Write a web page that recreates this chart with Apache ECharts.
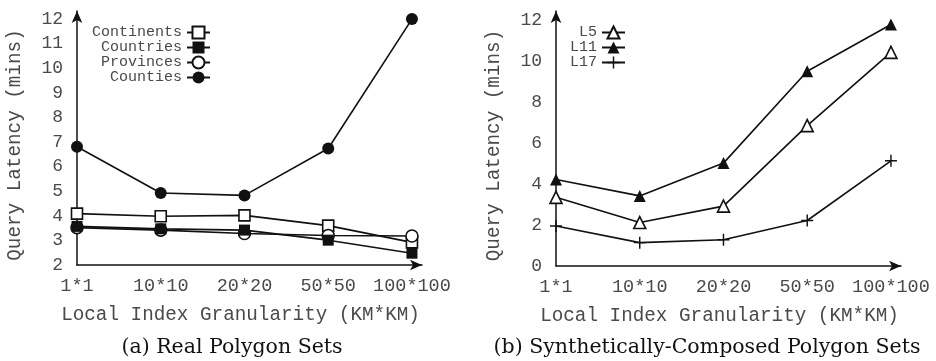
<!DOCTYPE html>
<html>
<head>
<meta charset="utf-8">
<script src="https://cdn.jsdelivr.net/npm/echarts@6/dist/echarts.min.js"></script>
<style>
  html, body { margin: 0; padding: 0; background: #fff; }
  #chart { width: 936px; height: 361px; }
</style>
</head>
<body>
<div id="chart"></div>
<script>
// x categories (shared by both panels)
var categories = ['1*1', '10*10', '20*20', '50*50', '100*100'];

// (a) real polygon sets
var continents = [4.09, 3.98, 4.02, 3.60, 2.92];
var countries  = [3.57, 3.47, 3.42, 3.01, 2.48];
var provinces  = [3.52, 3.42, 3.28, 3.20, 3.18];
var counties   = [6.81, 4.93, 4.83, 6.74, 12.0];

// (b) synthetically-composed polygon sets
var l5  = [3.35, 2.12, 2.92, 6.85, 10.42];
var l11 = [4.22, 3.42, 5.02, 9.50, 11.78];
var l17 = [1.95, 1.14, 1.28, 2.22, 5.13];

var mono = 'Liberation Mono';
var serif = 'DejaVu Serif';
var ink = '#111';
var grey = '#4a4a4a';
var plus = 'path://M0,4.4H10V5.6H0Z M4.4,0H5.6V10H4.4Z';

function pts(arr) {
    return arr.map(function (v, i) { return [i, v]; });
}

function xAxisFor(gi) {
    return {
        type: 'value', gridIndex: gi, min: 0, max: 4.12, interval: 1,
        axisLine: { lineStyle: { color: ink, width: 1.5 }, symbol: ['none', 'arrow'], symbolSize: [8, 12] },
        axisTick: { show: false },
        splitLine: { show: false },
        axisLabel: {
            margin: 12, color: grey, fontFamily: mono, fontSize: 18.5,
            formatter: function (v) { return Number.isInteger(v) ? categories[v] : ''; }
        },
        name: 'Local Index Granularity (KM*KM)', nameLocation: 'middle', nameGap: 40,
        nameTextStyle: { color: grey, fontFamily: mono, fontSize: 19.3, padding: [0, 18, 0, 0] }
    };
}

function yAxisFor(gi, min, max, step) {
    return {
        type: 'value', gridIndex: gi, min: min, max: max, interval: step,
        axisLine: { show: true, lineStyle: { color: ink, width: 1.5 }, symbol: ['none', 'arrow'], symbolSize: [8, 12] },
        axisTick: { show: false },
        splitLine: { show: false },
        axisLabel: {
            margin: 14, color: grey, fontFamily: mono, fontSize: 18,
            formatter: function (v) { return Number.isInteger(v) && v % step === 0 ? String(v) : ''; }
        },
        name: 'Query Latency (mins)', nameLocation: 'middle', nameGap: 53,
        nameTextStyle: { color: grey, fontFamily: mono, fontSize: 19.3, padding: [0, 14, 0, 0] }
    };
}

function line(name, data, xi, symbol, size, filled) {
    return {
        name: name, type: 'line', xAxisIndex: xi, yAxisIndex: xi,
        data: pts(data), symbol: symbol, symbolSize: size, showAllSymbol: true,
        lineStyle: { color: ink, width: 1.6 },
        itemStyle: { color: filled ? ink : '#fff', borderColor: ink, borderWidth: filled ? 0 : 1.6 },
        emphasis: { disabled: true },
        z: filled ? 3 : 2
    };
}

function legendFor(names, right) {
    return {
        data: names, orient: 'vertical', align: 'right', right: right, top: 25,
        itemWidth: 23, itemHeight: 15, itemGap: 0, padding: 0,
        textStyle: { fontFamily: mono, fontSize: 15, color: grey, width: 96, align: 'right' }
    };
}

var chart = echarts.init(document.getElementById('chart'));
chart.setOption({
    animation: false,
    backgroundColor: '#fff',
    grid: [
        { left: 77, top: 11, width: 345, height: 254 },
        { left: 556, top: 11, width: 345, height: 255 }
    ],
    xAxis: [xAxisFor(0), xAxisFor(1)],
    yAxis: [yAxisFor(0, 2, 12.33, 1), yAxisFor(1, 0, 12.44, 2)],
    legend: [
        legendFor(['Continents', 'Countries', 'Provinces', 'Counties'], 725),
        legendFor(['L5', 'L11', 'L17'], 310)
    ],
    title: [
        { text: '(a) Real Polygon Sets', left: 227, top: 332, textAlign: 'center',
          textStyle: { fontFamily: serif, fontSize: 20.5, fontWeight: 'normal', color: '#111' } },
        { text: '(b) Synthetically-Composed Polygon Sets', left: 702, top: 332, textAlign: 'center',
          textStyle: { fontFamily: serif, fontSize: 20.5, fontWeight: 'normal', color: '#111' } }
    ],
    series: [
        line('Continents', continents, 0, 'rect', 11, false),
        line('Countries', countries, 0, 'rect', 11, true),
        line('Provinces', provinces, 0, 'circle', 12, false),
        line('Counties', counties, 0, 'circle', 12, true),
        line('L5', l5, 1, 'triangle', 12, false),
        line('L11', l11, 1, 'triangle', 12, true),
        line('L17', l17, 1, plus, 12, true)
    ]
});
</script>
</body>
</html>
